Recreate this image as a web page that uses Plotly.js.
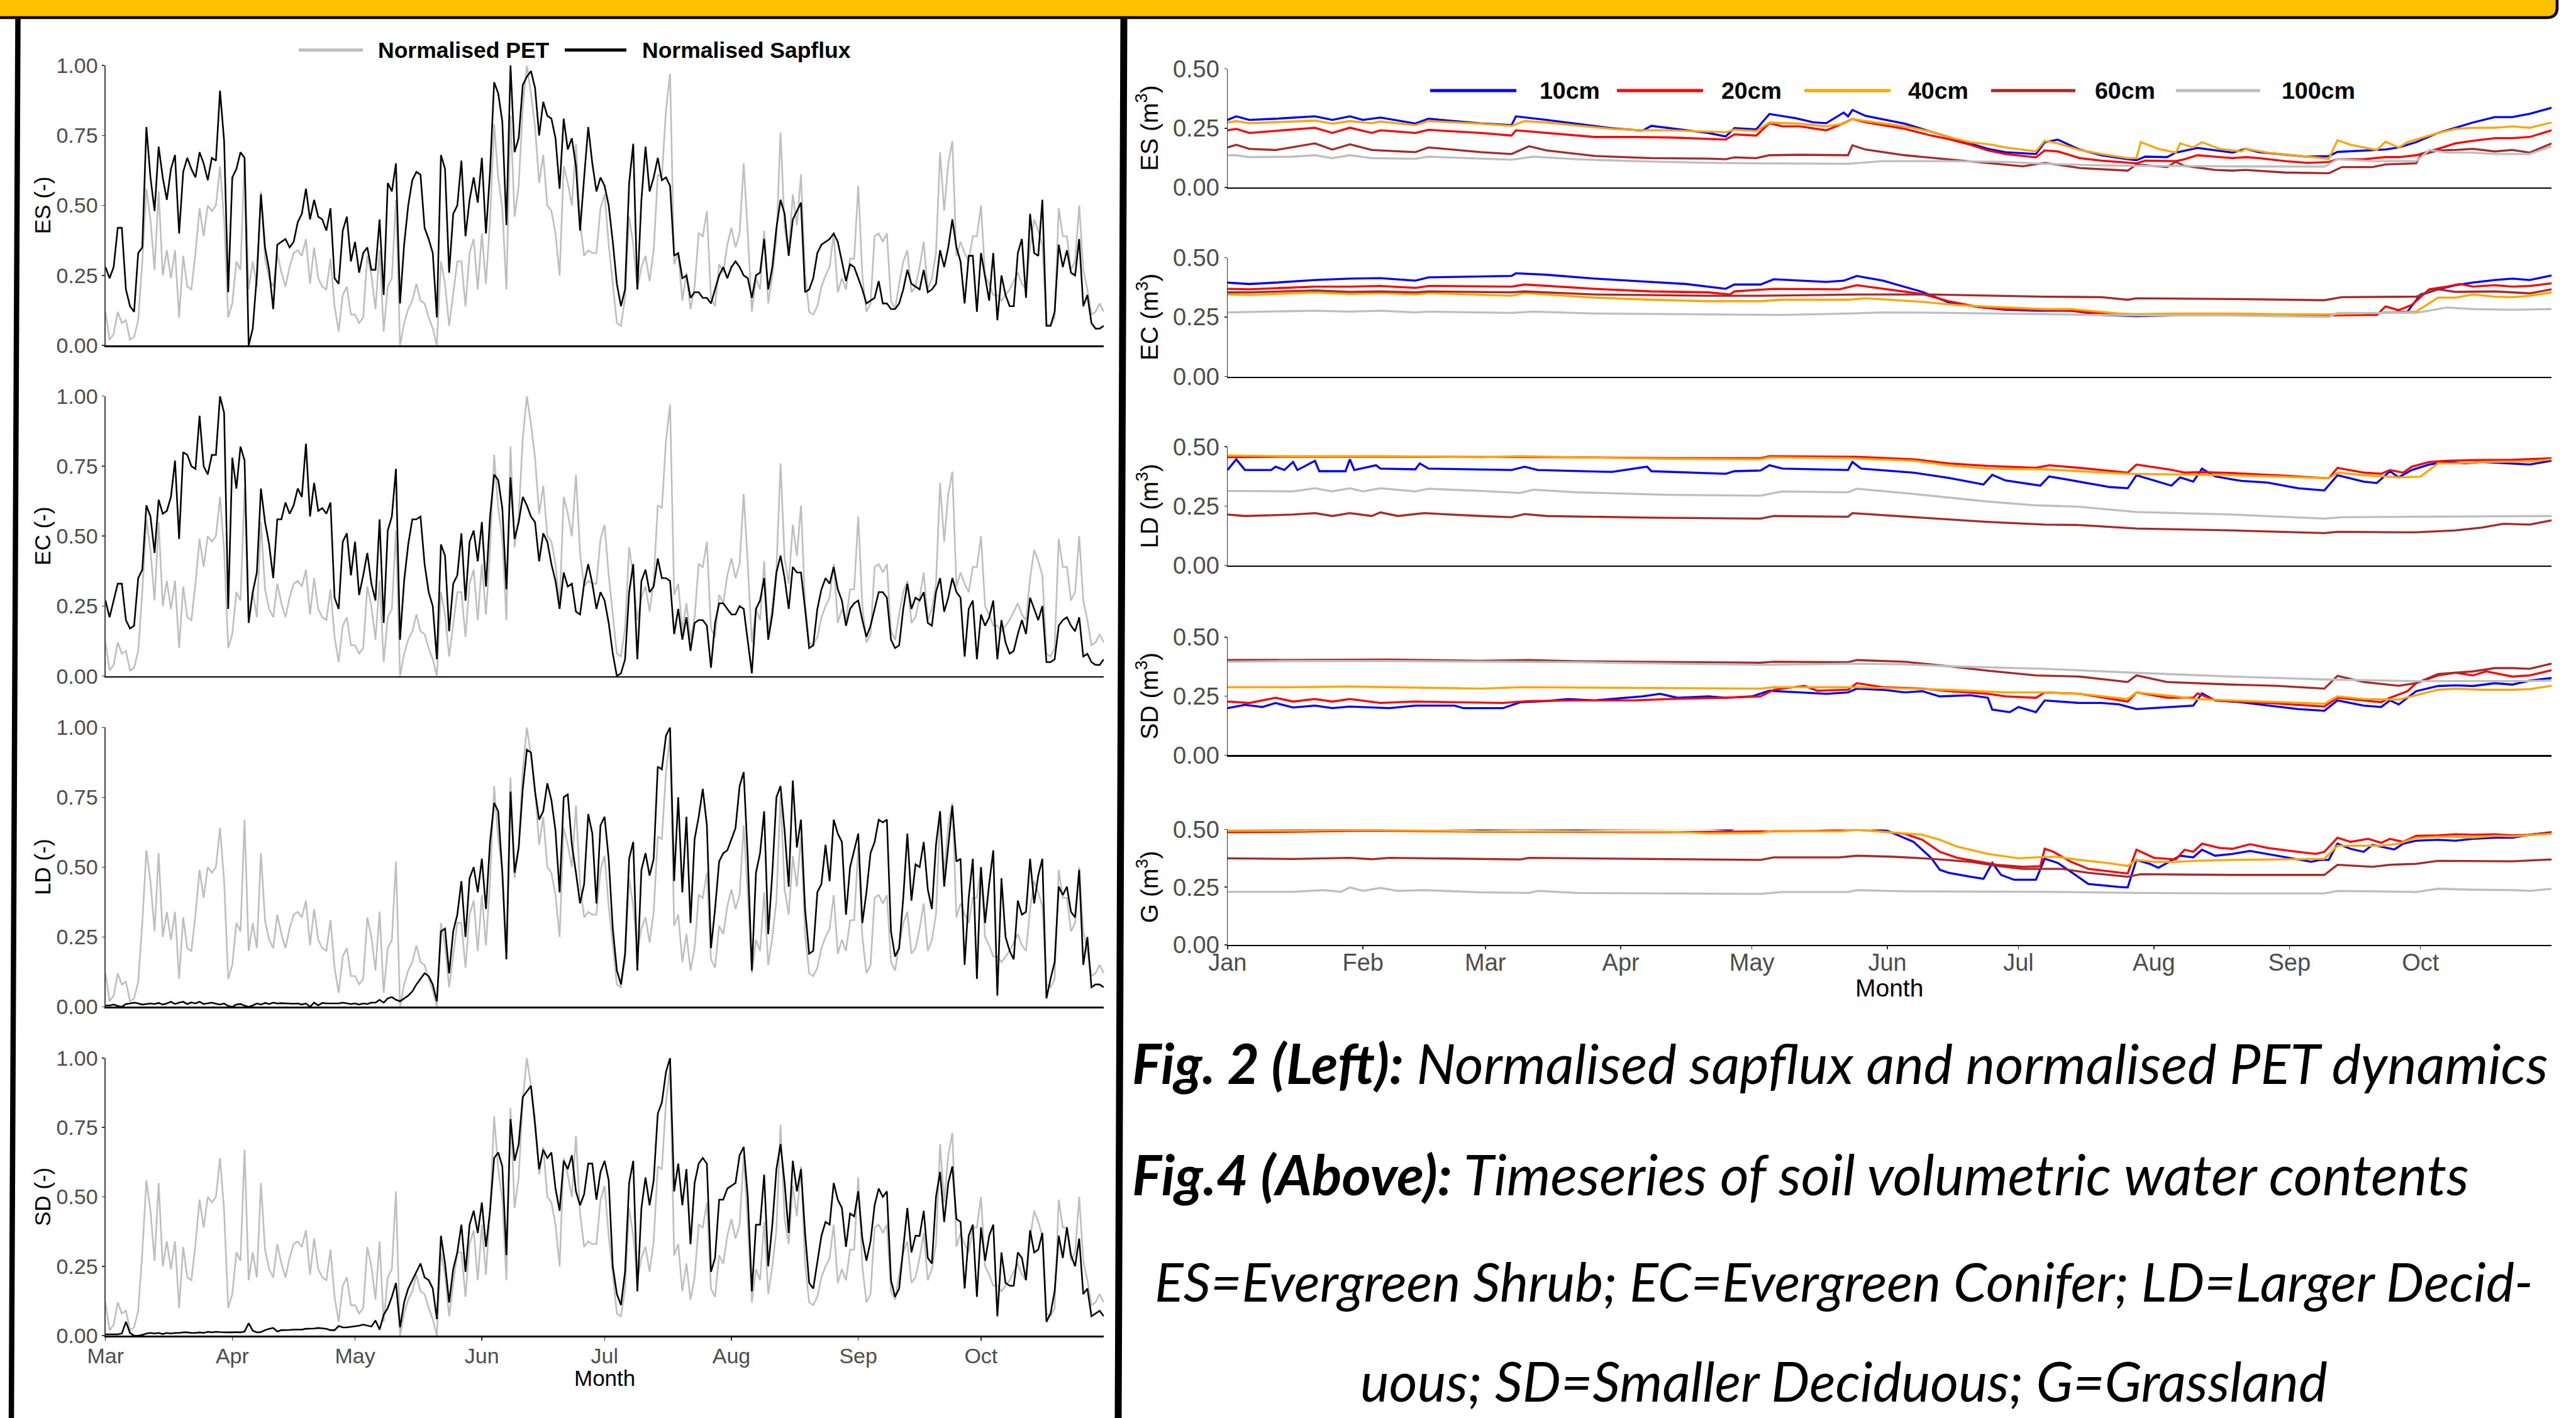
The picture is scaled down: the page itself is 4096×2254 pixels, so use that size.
<!DOCTYPE html>
<html><head><meta charset="utf-8">
<script src="https://cdn.plot.ly/plotly-3.0.1.min.js"></script>
<style>html,body{margin:0;padding:0;background:#fff;overflow:hidden}#chart{width:4096px;height:2254px}</style>
</head><body><div id="chart"></div>
<script>
// ---------------- DATA: left (Fig. 2), daily from 1 March ----------------
const leftStartYear = 2019, leftStartMonth = 2; // March
const petNorm = [
0.12,0.02,0.04,0.12,0.08,0.09,0.02,0.03,0.09,0.3,
0.56,0.45,0.27,0.55,0.25,0.34,0.24,0.34,0.1,0.32,
0.21,0.2,0.33,0.49,0.39,0.5,0.48,0.5,0.64,0.45,
0.1,0.15,0.3,0.27,0.67,0.2,0.3,0.21,0.55,0.31,
0.24,0.21,0.33,0.26,0.21,0.28,0.33,0.34,0.32,0.38,
0.22,0.35,0.24,0.21,0.2,0.31,0.14,0.05,0.18,0.21,
0.11,0.11,0.08,0.1,0.32,0.25,0.13,0.34,0.05,0.21,
0.24,0.52,0.0,0.08,0.13,0.16,0.22,0.16,0.15,0.1,
0.06,0.0,0.3,0.22,0.07,0.19,0.3,0.3,0.14,0.33,
0.38,0.2,0.4,0.22,0.45,0.79,0.6,0.49,0.2,0.82,
0.46,0.57,0.85,1.0,0.9,0.78,0.58,0.68,0.5,0.48,
0.4,0.25,0.64,0.58,0.5,0.72,0.44,0.32,0.34,0.33,
0.33,0.49,0.54,0.36,0.22,0.08,0.07,0.17,0.46,0.36,
0.2,0.28,0.32,0.23,0.34,0.61,0.6,0.84,0.97,0.29,
0.33,0.16,0.26,0.13,0.21,0.4,0.39,0.48,0.17,0.14,
0.29,0.26,0.36,0.42,0.35,0.4,0.65,0.4,0.12,0.24,
0.2,0.41,0.15,0.25,0.38,0.76,0.42,0.33,0.54,0.43,
0.61,0.26,0.12,0.11,0.14,0.21,0.25,0.28,0.4,0.19,
0.24,0.2,0.31,0.31,0.57,0.25,0.12,0.15,0.39,0.4,
0.37,0.4,0.16,0.13,0.22,0.3,0.34,0.19,0.21,0.28,
0.37,0.2,0.24,0.33,0.69,0.48,0.65,0.73,0.32,0.37,
0.33,0.3,0.39,0.39,0.5,0.25,0.22,0.18,0.18,0.16,
0.18,0.2,0.23,0.26,0.22,0.2,0.35,0.45,0.41,0.36,
0.08,0.07,0.1,0.49,0.39,0.39,0.27,0.3,0.5,0.27,
0.2,0.11,0.12,0.15,0.12];
const sapES = [
0.28,0.24,0.28,0.42,0.42,0.2,0.14,0.12,0.33,0.35,
0.78,0.6,0.48,0.71,0.6,0.52,0.63,0.68,0.4,0.62,
0.67,0.63,0.6,0.69,0.65,0.59,0.67,0.66,0.91,0.73,
0.19,0.6,0.63,0.69,0.67,0.0,0.06,0.25,0.54,0.35,
0.27,0.13,0.36,0.37,0.38,0.35,0.37,0.44,0.47,0.56,
0.45,0.52,0.46,0.45,0.41,0.49,0.24,0.22,0.41,0.46,
0.3,0.37,0.26,0.33,0.35,0.27,0.27,0.45,0.18,0.58,
0.55,0.65,0.15,0.36,0.5,0.59,0.62,0.61,0.42,0.38,
0.33,0.1,0.68,0.63,0.26,0.47,0.5,0.66,0.39,0.52,
0.6,0.51,0.67,0.4,0.62,0.94,0.9,0.8,0.43,1.0,
0.69,0.74,0.93,0.96,0.98,0.92,0.75,0.87,0.82,0.81,
0.74,0.56,0.81,0.7,0.74,0.64,0.41,0.6,0.78,0.65,
0.55,0.6,0.57,0.5,0.37,0.22,0.14,0.2,0.58,0.72,
0.2,0.52,0.71,0.55,0.6,0.67,0.59,0.6,0.57,0.32,
0.33,0.24,0.25,0.17,0.19,0.19,0.17,0.17,0.15,0.2,
0.25,0.28,0.24,0.28,0.3,0.28,0.25,0.24,0.17,0.25,
0.26,0.38,0.2,0.28,0.42,0.52,0.47,0.32,0.45,0.48,
0.51,0.19,0.2,0.24,0.33,0.36,0.37,0.38,0.4,0.37,
0.3,0.23,0.29,0.28,0.24,0.2,0.15,0.16,0.17,0.23,
0.15,0.15,0.13,0.13,0.15,0.2,0.27,0.22,0.21,0.2,
0.27,0.19,0.2,0.22,0.34,0.28,0.35,0.45,0.35,0.3,
0.15,0.32,0.32,0.12,0.33,0.24,0.16,0.33,0.09,0.25,
0.18,0.14,0.14,0.33,0.38,0.17,0.47,0.33,0.32,0.52,
0.07,0.07,0.12,0.36,0.28,0.34,0.26,0.25,0.38,0.14,
0.18,0.08,0.06,0.06,0.07];
const sapEC = [
0.27,0.21,0.27,0.33,0.33,0.2,0.17,0.18,0.35,0.38,
0.61,0.57,0.44,0.63,0.58,0.59,0.64,0.77,0.49,0.8,
0.79,0.75,0.74,0.93,0.75,0.72,0.79,0.79,1.0,0.94,
0.24,0.78,0.67,0.82,0.77,0.19,0.3,0.37,0.67,0.55,
0.47,0.35,0.56,0.56,0.62,0.58,0.61,0.67,0.64,0.83,
0.57,0.69,0.59,0.6,0.58,0.62,0.28,0.24,0.48,0.51,
0.36,0.48,0.29,0.36,0.44,0.33,0.27,0.56,0.19,0.52,
0.57,0.74,0.13,0.34,0.47,0.56,0.56,0.57,0.4,0.3,
0.25,0.06,0.47,0.43,0.16,0.33,0.36,0.51,0.27,0.48,
0.52,0.41,0.55,0.32,0.57,0.72,0.7,0.6,0.31,0.71,
0.49,0.55,0.64,0.61,0.57,0.55,0.41,0.51,0.48,0.4,
0.34,0.24,0.37,0.32,0.33,0.23,0.22,0.33,0.4,0.33,
0.24,0.3,0.27,0.19,0.08,0.0,0.01,0.06,0.3,0.4,
0.06,0.34,0.38,0.3,0.32,0.42,0.35,0.35,0.34,0.15,
0.24,0.13,0.21,0.09,0.19,0.2,0.2,0.18,0.03,0.19,
0.26,0.26,0.24,0.22,0.22,0.25,0.24,0.13,0.01,0.24,
0.27,0.35,0.13,0.22,0.37,0.43,0.35,0.24,0.39,0.37,
0.37,0.24,0.1,0.11,0.24,0.31,0.35,0.33,0.39,0.31,
0.27,0.18,0.24,0.26,0.27,0.2,0.14,0.18,0.24,0.3,
0.3,0.28,0.13,0.1,0.11,0.24,0.33,0.24,0.28,0.27,
0.3,0.19,0.18,0.3,0.35,0.23,0.28,0.35,0.3,0.28,
0.07,0.24,0.27,0.06,0.22,0.18,0.21,0.27,0.06,0.2,
0.12,0.08,0.09,0.15,0.2,0.15,0.28,0.24,0.2,0.25,
0.05,0.05,0.06,0.18,0.2,0.21,0.18,0.16,0.21,0.07,
0.08,0.05,0.04,0.04,0.06];
const sapLD = [
0.005,0.005,0.008,0.003,0.0,0.01,0.012,0.015,0.012,0.008,
0.01,0.012,0.01,0.014,0.008,0.012,0.018,0.01,0.015,0.018,
0.01,0.016,0.012,0.018,0.01,0.012,0.015,0.011,0.008,0.012,
0.003,0.0,0.008,0.01,0.004,0.0,0.005,0.012,0.008,0.014,
0.01,0.015,0.012,0.013,0.012,0.012,0.011,0.012,0.008,0.012,
0.0,0.015,0.005,0.014,0.012,0.012,0.012,0.012,0.015,0.013,
0.01,0.012,0.008,0.012,0.01,0.015,0.015,0.025,0.015,0.03,
0.035,0.025,0.02,0.03,0.04,0.055,0.08,0.1,0.12,0.11,
0.08,0.02,0.27,0.28,0.12,0.27,0.33,0.45,0.25,0.46,
0.5,0.41,0.53,0.35,0.59,0.73,0.7,0.48,0.17,0.77,
0.48,0.57,0.78,0.92,0.91,0.77,0.67,0.7,0.8,0.74,
0.63,0.41,0.75,0.76,0.58,0.48,0.37,0.44,0.69,0.62,
0.37,0.65,0.68,0.53,0.28,0.13,0.08,0.19,0.53,0.59,
0.13,0.49,0.55,0.47,0.53,0.86,0.85,0.97,1.0,0.45,
0.75,0.41,0.68,0.3,0.6,0.68,0.78,0.65,0.21,0.35,
0.52,0.55,0.56,0.6,0.64,0.79,0.84,0.53,0.13,0.48,
0.55,0.7,0.26,0.48,0.75,0.79,0.63,0.43,0.81,0.57,
0.67,0.35,0.19,0.2,0.41,0.44,0.58,0.45,0.67,0.62,
0.59,0.33,0.5,0.56,0.62,0.3,0.41,0.55,0.59,0.67,
0.66,0.67,0.27,0.18,0.21,0.39,0.62,0.38,0.51,0.5,
0.59,0.42,0.35,0.58,0.7,0.43,0.58,0.72,0.52,0.53,
0.15,0.39,0.53,0.1,0.5,0.3,0.44,0.56,0.04,0.46,
0.25,0.2,0.17,0.38,0.33,0.34,0.53,0.37,0.47,0.53,
0.03,0.1,0.16,0.43,0.4,0.43,0.34,0.32,0.49,0.15,
0.25,0.07,0.08,0.08,0.07];
const sapSD = [
0.005,0.005,0.005,0.005,0.008,0.05,0.01,0.0,0.0,0.003,
0.008,0.01,0.008,0.01,0.006,0.01,0.008,0.01,0.01,0.012,
0.012,0.01,0.01,0.012,0.01,0.014,0.012,0.014,0.013,0.012,
0.012,0.012,0.013,0.012,0.015,0.045,0.018,0.012,0.013,0.02,
0.025,0.028,0.015,0.02,0.02,0.021,0.022,0.022,0.022,0.025,
0.025,0.026,0.028,0.027,0.025,0.02,0.02,0.035,0.03,0.03,
0.032,0.033,0.036,0.04,0.037,0.033,0.055,0.022,0.075,0.1,
0.14,0.19,0.03,0.12,0.17,0.2,0.23,0.26,0.21,0.2,
0.17,0.06,0.36,0.26,0.12,0.24,0.3,0.4,0.23,0.4,
0.45,0.37,0.48,0.32,0.45,0.64,0.66,0.61,0.29,0.78,
0.63,0.69,0.86,0.88,0.9,0.76,0.6,0.67,0.64,0.66,
0.53,0.45,0.63,0.6,0.65,0.52,0.47,0.51,0.62,0.62,
0.49,0.59,0.63,0.56,0.25,0.15,0.11,0.23,0.55,0.63,
0.16,0.46,0.57,0.47,0.56,0.8,0.84,0.95,1.0,0.52,
0.62,0.47,0.6,0.33,0.55,0.62,0.64,0.62,0.23,0.28,
0.49,0.49,0.53,0.54,0.55,0.65,0.68,0.5,0.16,0.4,
0.4,0.58,0.25,0.4,0.6,0.69,0.55,0.37,0.63,0.52,
0.6,0.37,0.19,0.17,0.26,0.36,0.41,0.4,0.55,0.49,
0.46,0.32,0.44,0.43,0.52,0.35,0.27,0.34,0.47,0.53,
0.5,0.52,0.2,0.14,0.17,0.31,0.46,0.3,0.36,0.36,
0.45,0.28,0.26,0.5,0.59,0.41,0.55,0.61,0.42,0.41,
0.17,0.36,0.4,0.14,0.39,0.27,0.36,0.4,0.07,0.3,
0.19,0.18,0.18,0.3,0.28,0.2,0.38,0.3,0.31,0.37,
0.05,0.08,0.16,0.36,0.28,0.39,0.29,0.25,0.35,0.15,
0.17,0.07,0.08,0.09,0.07];

// ---------------- DATA: right (Fig. 4), day of year -> soil VWC ----------------
const es10Day=[0,2,5,11,20,24,28,31,35,43,46,58,65,66,73,88,95,97,110,114,116,121,124,130,134,137,141,142,143,146,155,161,165,174,178,185,187,190,195,200,206,208,210,215,217,222,230,233,236,247,252,254,265,268,272,277,281,285,290,294,298,303];
const es10Val=[0.285,0.30,0.285,0.29,0.30,0.285,0.30,0.285,0.295,0.27,0.29,0.27,0.263,0.30,0.285,0.25,0.24,0.26,0.23,0.215,0.25,0.245,0.31,0.292,0.275,0.271,0.316,0.30,0.327,0.302,0.269,0.236,0.213,0.163,0.149,0.141,0.191,0.202,0.16,0.136,0.119,0.115,0.13,0.128,0.147,0.167,0.147,0.163,0.149,0.13,0.132,0.15,0.16,0.169,0.191,0.23,0.252,0.274,0.297,0.297,0.311,0.336];
const es20Day=[0,2,5,20,24,28,33,35,43,46,58,65,66,69,73,84,93,101,114,116,121,124,127,131,137,141,143,146,155,161,165,170,174,178,185,187,190,195,200,206,208,210,217,219,222,226,230,233,236,242,247,252,254,260,265,268,272,277,281,285,290,294,298,303];
const es20Val=[0.241,0.247,0.23,0.252,0.23,0.252,0.23,0.241,0.23,0.243,0.23,0.219,0.241,0.236,0.23,0.213,0.213,0.211,0.202,0.224,0.219,0.271,0.258,0.258,0.241,0.271,0.289,0.275,0.247,0.219,0.204,0.18,0.156,0.141,0.127,0.156,0.152,0.124,0.113,0.104,0.102,0.113,0.111,0.119,0.136,0.13,0.124,0.128,0.124,0.111,0.104,0.107,0.119,0.119,0.128,0.128,0.136,0.163,0.186,0.197,0.208,0.208,0.213,0.241];
const es40Day=[0,2,5,20,24,28,33,35,43,46,58,65,68,73,88,95,101,110,114,116,121,124,131,137,141,143,146,155,161,165,170,175,178,185,187,190,195,200,206,208,209,213,217,218,221,223,227,232,233,238,247,252,254,257,263,265,268,270,272,277,281,285,290,294,298,303];
const es40Val=[0.274,0.28,0.271,0.282,0.269,0.28,0.271,0.278,0.263,0.28,0.269,0.26,0.28,0.274,0.247,0.241,0.241,0.236,0.233,0.244,0.238,0.274,0.269,0.258,0.269,0.289,0.28,0.258,0.236,0.213,0.191,0.18,0.169,0.152,0.197,0.186,0.158,0.141,0.124,0.124,0.191,0.163,0.147,0.186,0.169,0.191,0.163,0.152,0.163,0.147,0.13,0.121,0.199,0.18,0.158,0.193,0.169,0.191,0.202,0.23,0.247,0.252,0.252,0.258,0.252,0.274];
const es60Day=[0,2,5,11,20,24,28,33,35,43,46,58,65,69,73,84,97,110,114,116,121,124,131,137,142,143,146,155,165,174,182,187,195,206,208,215,217,219,226,230,233,242,252,255,262,265,272,273,277,281,285,290,294,298,303];
const es60Val=[0.169,0.18,0.163,0.158,0.186,0.16,0.182,0.158,0.156,0.149,0.169,0.149,0.141,0.174,0.156,0.133,0.124,0.122,0.119,0.127,0.124,0.136,0.138,0.136,0.136,0.178,0.16,0.136,0.119,0.102,0.089,0.104,0.082,0.071,0.097,0.086,0.108,0.091,0.074,0.071,0.074,0.063,0.06,0.086,0.086,0.097,0.102,0.136,0.156,0.158,0.163,0.152,0.158,0.147,0.186];
const es100Day=[0,2,5,15,20,24,28,33,43,46,58,65,70,80,93,110,122,142,150,165,178,187,200,208,230,251,254,262,272,275,279,285,290,298,303];
const es100Val=[0.136,0.136,0.128,0.13,0.136,0.124,0.136,0.124,0.121,0.13,0.122,0.117,0.13,0.119,0.111,0.104,0.102,0.1,0.111,0.111,0.108,0.1,0.093,0.091,0.089,0.088,0.119,0.111,0.111,0.158,0.147,0.147,0.141,0.141,0.174];

const ec10Day=[0,5,11,20,28,35,43,46,65,66,73,84,95,105,114,116,122,125,137,141,144,150,159,165,172,178,185,193,200,208,217,230,242,252,264,270,273,277,281,285,290,294,298,303];
const ec10Val=[0.395,0.389,0.395,0.406,0.412,0.414,0.403,0.417,0.423,0.434,0.428,0.412,0.4,0.389,0.369,0.387,0.387,0.409,0.398,0.403,0.423,0.403,0.356,0.312,0.292,0.281,0.277,0.277,0.259,0.254,0.257,0.259,0.259,0.257,0.268,0.273,0.345,0.367,0.384,0.395,0.406,0.412,0.406,0.425];
const ec20Day=[0,5,20,28,35,43,46,65,68,84,97,110,115,116,125,140,144,150,159,165,172,178,187,193,200,208,230,251,263,265,268,271,275,279,282,285,290,294,298,303];
const ec20Val=[0.369,0.367,0.378,0.378,0.381,0.373,0.381,0.378,0.387,0.369,0.358,0.354,0.345,0.358,0.369,0.367,0.384,0.369,0.347,0.317,0.292,0.284,0.279,0.277,0.265,0.262,0.262,0.257,0.259,0.295,0.279,0.301,0.367,0.378,0.389,0.378,0.384,0.378,0.381,0.392];
const ec40Day=[0,5,20,28,35,43,46,65,68,84,97,110,122,127,142,146,159,167,176,187,193,200,206,217,230,242,252,264,272,277,281,285,290,294,298,303];
const ec40Val=[0.345,0.343,0.354,0.347,0.351,0.345,0.351,0.34,0.351,0.332,0.323,0.317,0.317,0.323,0.323,0.329,0.314,0.301,0.292,0.284,0.284,0.273,0.262,0.265,0.265,0.262,0.262,0.268,0.273,0.332,0.332,0.345,0.336,0.334,0.34,0.354];
const ec60Day=[0,5,20,28,35,43,46,65,68,84,110,122,144,161,187,200,206,208,230,251,255,272,277,281,290,298,303];
const ec60Val=[0.354,0.354,0.362,0.356,0.358,0.354,0.358,0.354,0.358,0.345,0.34,0.34,0.345,0.345,0.336,0.334,0.323,0.329,0.326,0.321,0.334,0.336,0.367,0.356,0.358,0.35,0.367];
const ec100Day=[0,20,28,35,43,46,65,70,84,110,127,142,150,165,187,208,230,252,254,272,279,285,294,303];
const ec100Val=[0.27,0.277,0.273,0.277,0.27,0.273,0.268,0.273,0.265,0.262,0.259,0.265,0.27,0.268,0.262,0.257,0.257,0.251,0.268,0.268,0.29,0.284,0.281,0.284];

const ld10Day=[0,2,4,10,11,13,15,16,20,21,27,28,29,34,35,43,44,46,65,68,71,88,96,97,114,116,122,124,127,142,143,145,157,165,173,175,178,186,188,195,202,206,208,216,218,221,223,226,232,238,245,251,254,260,263,266,268,271,275,279,283,287,294,298,303];
const ld10Val=[0.402,0.447,0.402,0.402,0.416,0.402,0.436,0.402,0.441,0.397,0.397,0.447,0.402,0.422,0.408,0.405,0.43,0.408,0.402,0.416,0.402,0.394,0.416,0.397,0.386,0.397,0.4,0.422,0.408,0.402,0.436,0.408,0.391,0.369,0.341,0.382,0.358,0.336,0.375,0.353,0.33,0.325,0.38,0.336,0.371,0.353,0.408,0.375,0.356,0.349,0.325,0.316,0.38,0.353,0.347,0.397,0.371,0.402,0.425,0.436,0.43,0.436,0.43,0.425,0.441];
const ld20Day=[0,15,37,58,80,101,122,124,144,157,165,174,185,188,195,206,208,216,219,223,230,240,252,254,260,264,266,269,271,275,279,285,294,303];
const ld20Val=[0.456,0.458,0.458,0.458,0.456,0.452,0.452,0.46,0.458,0.447,0.43,0.419,0.411,0.422,0.411,0.391,0.425,0.403,0.391,0.393,0.389,0.38,0.367,0.411,0.391,0.386,0.402,0.391,0.416,0.436,0.441,0.444,0.445,0.452];
const ld40Day=[0,15,28,37,58,67,80,101,122,124,142,157,165,174,187,195,206,219,230,240,252,254,260,268,273,277,281,287,294,298,303];
const ld40Val=[0.463,0.46,0.46,0.46,0.456,0.46,0.456,0.449,0.447,0.456,0.452,0.441,0.422,0.408,0.405,0.397,0.386,0.383,0.38,0.375,0.367,0.391,0.38,0.371,0.374,0.43,0.43,0.436,0.436,0.438,0.447];
const ld60Day=[0,4,15,20,24,28,33,35,39,45,58,65,68,73,97,122,125,142,143,157,174,187,195,208,230,251,254,272,281,287,292,298,303];
const ld60Val=[0.214,0.208,0.214,0.22,0.208,0.22,0.208,0.223,0.208,0.22,0.208,0.203,0.216,0.208,0.201,0.197,0.208,0.205,0.22,0.203,0.183,0.172,0.17,0.155,0.147,0.136,0.141,0.139,0.147,0.159,0.175,0.172,0.19];
const ld100Day=[0,15,20,24,28,31,35,43,46,58,67,70,80,101,122,127,142,144,157,174,185,195,208,230,251,255,272,303];
const ld100Val=[0.314,0.312,0.325,0.312,0.325,0.312,0.325,0.312,0.323,0.314,0.305,0.319,0.308,0.297,0.294,0.312,0.308,0.323,0.301,0.269,0.253,0.247,0.225,0.214,0.197,0.203,0.205,0.208];

const sd10Day=[0,4,8,11,15,20,24,28,37,43,52,54,63,67,73,78,84,95,99,103,110,114,120,124,131,137,142,144,150,155,159,163,170,174,175,179,181,185,187,191,195,200,204,208,215,217,221,223,226,232,238,245,251,254,260,264,266,268,272,277,281,285,290,294,298,303];
const sd10Val=[0.199,0.213,0.204,0.221,0.202,0.21,0.199,0.206,0.199,0.21,0.21,0.199,0.199,0.224,0.229,0.238,0.232,0.249,0.26,0.243,0.249,0.243,0.249,0.273,0.266,0.26,0.266,0.282,0.277,0.266,0.271,0.249,0.254,0.243,0.193,0.182,0.204,0.182,0.232,0.227,0.221,0.221,0.215,0.195,0.202,0.206,0.21,0.262,0.232,0.224,0.21,0.195,0.188,0.232,0.21,0.204,0.232,0.215,0.271,0.293,0.296,0.293,0.305,0.299,0.316,0.327];
const sd20Day=[0,5,11,15,20,24,28,35,43,52,63,69,80,93,101,114,122,125,132,135,142,144,150,159,165,174,178,185,187,195,202,206,208,215,221,222,226,238,251,254,260,264,266,270,272,277,281,285,288,294,298,303];
const sd20Val=[0.227,0.221,0.243,0.227,0.238,0.227,0.238,0.221,0.227,0.224,0.221,0.229,0.232,0.232,0.238,0.243,0.249,0.277,0.294,0.273,0.277,0.305,0.288,0.282,0.271,0.26,0.249,0.243,0.266,0.26,0.238,0.227,0.266,0.243,0.243,0.262,0.232,0.221,0.206,0.243,0.232,0.224,0.243,0.271,0.305,0.338,0.349,0.338,0.355,0.333,0.338,0.36];
const sd40Day=[0,15,28,37,58,67,101,122,125,144,159,165,178,187,195,206,208,217,221,230,240,251,254,260,268,272,277,281,287,294,298,303];
const sd40Val=[0.288,0.288,0.291,0.288,0.282,0.288,0.285,0.282,0.288,0.288,0.28,0.277,0.266,0.266,0.26,0.238,0.266,0.249,0.238,0.232,0.227,0.218,0.249,0.238,0.235,0.254,0.277,0.282,0.277,0.277,0.28,0.294];
const sd60Day=[0,15,28,37,58,69,80,101,122,125,142,144,155,165,174,185,195,206,208,215,230,240,251,254,260,268,272,277,281,285,290,294,298,303];
const sd60Val=[0.403,0.403,0.405,0.405,0.4,0.403,0.398,0.394,0.392,0.396,0.394,0.403,0.396,0.377,0.358,0.338,0.333,0.31,0.338,0.31,0.299,0.294,0.282,0.336,0.31,0.294,0.305,0.344,0.349,0.355,0.369,0.369,0.366,0.388];
const sd100Day=[0,15,37,58,80,101,122,144,155,165,187,208,230,251,272,294,303];
const sd100Val=[0.396,0.399,0.399,0.396,0.394,0.388,0.383,0.388,0.385,0.377,0.366,0.349,0.333,0.321,0.314,0.314,0.316];

const g10Day=[0,15,33,45,58,67,80,93,101,110,115,117,122,135,142,146,151,157,161,163,165,170,173,175,177,180,185,187,190,193,197,204,206,208,211,213,218,221,223,226,230,234,238,243,248,250,252,254,257,260,262,264,267,269,272,277,281,285,290,294,298,303];
const g10Val=[0.505,0.503,0.503,0.507,0.501,0.503,0.501,0.505,0.505,0.505,0.498,0.509,0.516,0.511,0.517,0.509,0.494,0.446,0.377,0.325,0.312,0.295,0.286,0.355,0.303,0.282,0.282,0.373,0.355,0.316,0.264,0.251,0.249,0.368,0.351,0.334,0.386,0.379,0.412,0.386,0.394,0.407,0.393,0.377,0.36,0.368,0.368,0.438,0.416,0.403,0.433,0.425,0.413,0.438,0.451,0.455,0.451,0.459,0.464,0.464,0.477,0.488];
const g20Day=[0,15,28,37,58,80,101,122,135,142,148,155,159,163,167,176,182,186,187,189,193,197,203,206,208,212,217,219,221,223,227,230,234,238,245,249,251,254,257,261,264,266,269,272,277,281,285,290,294,298,303];
const g20Val=[0.488,0.49,0.494,0.494,0.49,0.49,0.488,0.491,0.494,0.5,0.494,0.481,0.455,0.403,0.377,0.347,0.338,0.341,0.416,0.403,0.36,0.329,0.316,0.309,0.412,0.377,0.37,0.412,0.403,0.438,0.42,0.416,0.436,0.42,0.403,0.394,0.403,0.464,0.446,0.459,0.442,0.459,0.446,0.472,0.474,0.479,0.477,0.479,0.474,0.477,0.485];
const g40Day=[0,15,28,37,58,80,101,110,122,125,140,144,150,159,163,167,174,181,187,190,195,202,206,208,212,217,221,230,240,251,254,260,264,268,272,277,281,285,290,294,298,303];
const g40Val=[0.494,0.494,0.498,0.497,0.491,0.491,0.49,0.483,0.485,0.494,0.491,0.498,0.49,0.477,0.455,0.425,0.394,0.375,0.381,0.381,0.368,0.353,0.342,0.368,0.359,0.359,0.364,0.368,0.37,0.373,0.429,0.429,0.429,0.438,0.464,0.468,0.468,0.465,0.472,0.47,0.474,0.481];
const g60Day=[0,15,28,33,37,45,58,67,69,80,101,122,125,140,144,152,161,170,176,182,191,197,206,209,230,251,254,262,266,272,277,285,294,303];
const g60Val=[0.375,0.372,0.377,0.371,0.377,0.375,0.372,0.37,0.377,0.375,0.372,0.368,0.379,0.379,0.386,0.382,0.373,0.36,0.342,0.329,0.329,0.312,0.295,0.306,0.303,0.303,0.347,0.338,0.347,0.351,0.364,0.364,0.362,0.37];
const g100Day=[0,15,22,26,28,31,35,39,45,58,69,71,80,101,122,127,142,144,155,187,208,230,251,254,272,277,285,294,298,303];
const g100Val=[0.23,0.23,0.237,0.23,0.249,0.234,0.247,0.234,0.237,0.228,0.225,0.234,0.225,0.223,0.221,0.229,0.229,0.237,0.232,0.23,0.225,0.223,0.223,0.234,0.229,0.243,0.239,0.237,0.234,0.243];

const depthNames = ['10cm','20cm','40cm','60cm','100cm'];
const depthColors = ['#0000FF','#FF0000','#FFA500','#A52A2A','#BEBEBE'];
const leftLabels = ['ES (-)','EC (-)','LD (-)','SD (-)'];
const rightLabels = ['ES (m<sup>3</sup>)','EC (m<sup>3</sup>)','LD (m<sup>3</sup>)','SD (m<sup>3</sup>)','G (m<sup>3</sup>)'];

// ---------------- BUILD ----------------
const W = 4096, H = 2254;
const X = p => p / W, Y = p => 1 - p / H;
function dateOf(y, m, d) { return new Date(Date.UTC(y, m, 1) + d * 86400000).toISOString().slice(0, 10); }

const AX_FONT = 'Liberation Sans, Arial, sans-serif';
const traces = [];
const leftX = petNorm.map((_, i) => dateOf(leftStartYear, leftStartMonth, i));
const saps = [sapES, sapEC, sapLD, sapSD];
saps.forEach((s, k) => {
  const n = k + 1, xa = 'x' + (n === 1 ? '' : n), ya = 'y' + (n === 1 ? '' : n);
  traces.push({x: leftX, y: petNorm, xaxis: xa, yaxis: ya, mode: 'lines', line: {color: '#BEBEBE', width: 2.6}, hoverinfo: 'skip'});
  traces.push({x: s.map((_, i) => dateOf(leftStartYear, leftStartMonth, i)), y: s, xaxis: xa, yaxis: ya, mode: 'lines', line: {color: '#000000', width: 2.6}, hoverinfo: 'skip'});
});
const rightSets = [
  [[es10Day,es10Val],[es20Day,es20Val],[es40Day,es40Val],[es60Day,es60Val],[es100Day,es100Val]],
  [[ec10Day,ec10Val],[ec20Day,ec20Val],[ec40Day,ec40Val],[ec60Day,ec60Val],[ec100Day,ec100Val]],
  [[ld10Day,ld10Val],[ld20Day,ld20Val],[ld40Day,ld40Val],[ld60Day,ld60Val],[ld100Day,ld100Val]],
  [[sd10Day,sd10Val],[sd20Day,sd20Val],[sd40Day,sd40Val],[sd60Day,sd60Val],[sd100Day,sd100Val]],
  [[g10Day,g10Val],[g20Day,g20Val],[g40Day,g40Val],[g60Day,g60Val],[g100Day,g100Val]]
];
rightSets.forEach((set, k) => {
  const n = k + 5;
  set.forEach((pair, j) => {
    traces.push({x: pair[0].map(d => dateOf(2019, 0, d)), y: pair[1], xaxis: 'x' + n, yaxis: 'y' + n, mode: 'lines', name: depthNames[j], line: {color: depthColors[j], width: 3.3}, hoverinfo: 'skip'});
  });
});

const layout = {width: W, height: H, margin: {l: 0, r: 0, t: 0, b: 0, pad: 0}, paper_bgcolor: '#fff', plot_bgcolor: 'rgba(0,0,0,0)', showlegend: false, shapes: [], annotations: []};

// left panels
const leftTops = [104.0, 629.7, 1156.3, 1681.9], leftBots = [549.1, 1074.7, 1600.4, 2123.2];
for (let k = 0; k < 4; k++) {
  const n = k + 1, sx = n === 1 ? '' : n;
  const last = k === 3;
  layout['xaxis' + sx] = {domain: [X(167.7), X(1755)], anchor: 'y' + sx, type: 'date', range: ['2019-03-01', '2019-10-31'],
    showline: true, linecolor: '#000', linewidth: 2.6, showgrid: false, zeroline: false,
    ticks: last ? 'outside' : '', ticklen: 5, tickwidth: 1.5, tickcolor: '#333', showticklabels: last, ticklabelstandoff: -5,
    tickformat: '%b', dtick: 'M1', tick0: '2019-03-01', tickfont: {family: AX_FONT, size: 34, color: '#4D4D4D'}};
  layout['yaxis' + sx] = {domain: [Y(leftBots[k]), Y(leftTops[k])], anchor: 'x' + sx, range: [0, 1],
    tickvals: [0, 0.25, 0.5, 0.75, 1], tickformat: '.2f', ticks: 'outside', ticklen: 4, tickwidth: 1.5, tickcolor: '#333',
    showline: true, linecolor: '#444', linewidth: 1.3, showgrid: false, zeroline: false,
    tickfont: {family: AX_FONT, size: 34, color: '#4D4D4D'}};
}
// right panels
const rightTops = [109.6, 409.5, 710.2, 1012.9, 1318.4], rightBots = [298.0, 598.7, 898.6, 1200.3, 1502.0];
for (let k = 0; k < 5; k++) {
  const n = k + 5, last = k === 4;
  layout['xaxis' + n] = {domain: [X(1951.8), X(4057.2)], anchor: 'y' + n, type: 'date', range: ['2019-01-01', '2019-10-31'],
    showline: true, linecolor: '#000', linewidth: 2.2, showgrid: false, zeroline: false,
    ticks: last ? 'outside' : '', ticklen: 5, tickwidth: 1.5, tickcolor: '#333', showticklabels: last, ticklabelstandoff: -12,
    tickformat: '%b', dtick: 'M1', tick0: '2019-01-01', tickfont: {family: AX_FONT, size: 38, color: '#4D4D4D'}};
  layout['yaxis' + n] = {domain: [Y(rightBots[k]), Y(rightTops[k])], anchor: 'x' + n, range: [0, 0.5],
    tickvals: [0, 0.25, 0.5], tickformat: '.2f', ticks: 'outside', ticklen: 4, tickwidth: 1.5, tickcolor: '#333',
    showline: true, linecolor: '#333', linewidth: 1.3, showgrid: false, zeroline: false,
    tickfont: {family: AX_FONT, size: 38, color: '#4D4D4D'}};
}

// caption annotations (indices 0..3, auto-fitted to the reference widths below)
const CAP_FONT = 'Lato, Open Sans, sans-serif';
const captions = [
  {text: '<b><i>Fig. 2 (Left):</i></b><i> Normalised sapflux and normalised PET dynamics</i>', x: 1798, y: 1689, anchor: 'left', w: 2252},
  {text: '<b><i>Fig.4 (Above):</i></b><i> Timeseries of soil volumetric water contents</i>', x: 1798, y: 1866, anchor: 'left', w: 2126},
  {text: '<i>ES=Evergreen Shrub; EC=Evergreen Conifer; LD=Larger Decid-</i>', x: 2932, y: 2036, anchor: 'center', w: 2192},
  {text: '<i>uous; SD=Smaller Deciduous; G=Grassland</i>', x: 2932, y: 2194, anchor: 'center', w: 1538}
];
captions.forEach(c => layout.annotations.push({text: c.text, xref: 'paper', yref: 'paper', x: X(c.x), y: Y(c.y), xanchor: c.anchor, yanchor: 'middle', showarrow: false, font: {family: CAP_FONT, size: 74, color: '#000'}}));

// axis titles
leftLabels.forEach((t, k) => layout.annotations.push({text: t, xref: 'paper', yref: 'paper', x: X(67.5), y: Y((leftTops[k] + leftBots[k]) / 2), textangle: -90, xanchor: 'center', yanchor: 'middle', showarrow: false, font: {family: AX_FONT, size: 35, color: '#000'}}));
rightLabels.forEach((t, k) => layout.annotations.push({text: t, xref: 'paper', yref: 'paper', x: X(1824), y: Y((rightTops[k] + rightBots[k]) / 2), textangle: -90, xanchor: 'center', yanchor: 'middle', showarrow: false, font: {family: AX_FONT, size: 39, color: '#000'}}));
layout.annotations.push({text: 'Month', xref: 'paper', yref: 'paper', x: X(961), y: Y(2190), xanchor: 'center', yanchor: 'middle', showarrow: false, font: {family: AX_FONT, size: 35, color: '#000'}});
layout.annotations.push({text: 'Month', xref: 'paper', yref: 'paper', x: X(3004), y: Y(1570), xanchor: 'center', yanchor: 'middle', showarrow: false, font: {family: AX_FONT, size: 39, color: '#000'}});

// legends (drawn as keys + labels)
const legLeft = [{name: 'Normalised PET', color: '#BEBEBE', x0: 475, x1: 577, tx: 599}, {name: 'Normalised Sapflux', color: '#000000', x0: 898, x1: 996, tx: 1018.5}];
legLeft.forEach(l => {
  layout.shapes.push({type: 'line', xref: 'paper', yref: 'paper', x0: X(l.x0), x1: X(l.x1), y0: Y(79.6), y1: Y(79.6), line: {color: l.color, width: 5}});
  layout.annotations.push({text: '<b>' + l.name + '</b>', xref: 'paper', yref: 'paper', x: X(l.tx), y: Y(79.6), xanchor: 'left', yanchor: 'middle', showarrow: false, font: {family: AX_FONT, size: 35.5, color: '#000'}});
});
const legRightX = [[2274, 2411, 2446], [2571, 2708, 2735], [2869, 3006, 3032], [3166, 3300, 3329], [3460, 3594, 3626]];
depthNames.forEach((nm, j) => {
  const p = legRightX[j];
  layout.shapes.push({type: 'line', xref: 'paper', yref: 'paper', x0: X(p[0]), x1: X(p[1]), y0: Y(144), y1: Y(144), line: {color: depthColors[j], width: 5}});
  layout.annotations.push({text: '<b>' + nm + '</b>', xref: 'paper', yref: 'paper', x: X(p[2]), y: Y(144), xanchor: 'left', yanchor: 'middle', showarrow: false, font: {family: AX_FONT, size: 37.5, color: '#000'}});
});

// poster frame: banner, left border, divider
layout.shapes.push({type: 'path', xref: 'paper', yref: 'paper', layer: 'above',
  path: 'M' + X(-20) + ',' + Y(-20) + ' L' + X(4066) + ',' + Y(-20) + ' L' + X(4066) + ',' + Y(12) + ' Q' + X(4066) + ',' + Y(28) + ' ' + X(4050) + ',' + Y(28) + ' L' + X(-20) + ',' + Y(28) + ' Z',
  fillcolor: '#FFC000', line: {color: '#000', width: 4.5}});
layout.shapes.push({type: 'line', xref: 'paper', yref: 'paper', x0: X(28.5), y0: Y(29), x1: X(18), y1: Y(2260), line: {color: '#000', width: 8.5}});
layout.shapes.push({type: 'line', xref: 'paper', yref: 'paper', x0: X(1787), y0: Y(29), x1: X(1778), y1: Y(2260), line: {color: '#000', width: 11}});

const gd = document.getElementById('chart');
Plotly.newPlot(gd, traces, layout, {displayModeBar: false, staticPlot: true}).then(function () {
  const upd = {};
  captions.forEach((c, i) => {
    const t = gd.querySelector('g.annotation[data-index="' + i + '"] text');
    if (!t) return;
    const w = t.getBBox().width;
    if (w > 0) upd['annotations[' + i + '].font.size'] = 74 * c.w / w;
  });
  return Plotly.relayout(gd, upd);
});
</script></body></html>
